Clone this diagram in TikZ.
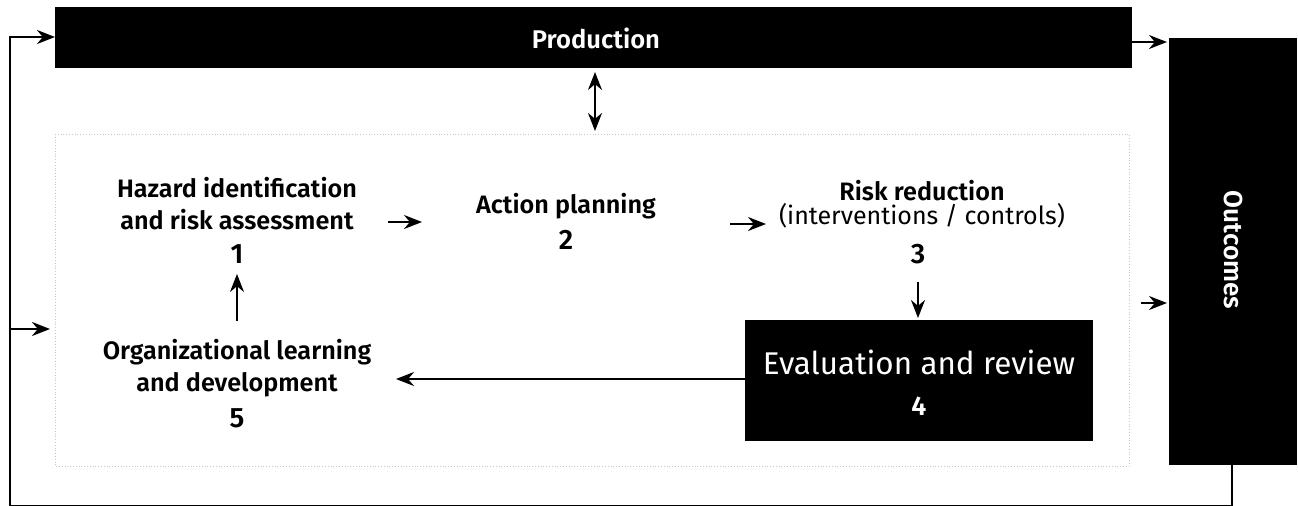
\documentclass[tikz,border=0pt]{standalone}
\usepackage{fontspec}
\setmainfont{Fira Sans}[BoldFont={Fira Sans SemiBold}]
\usetikzlibrary{arrows.meta}
\tikzset{
  lbl/.style={align=center,font=\bfseries\fontsize{12.6}{16}\selectfont,inner sep=0pt},
  num/.style={font=\bfseries\fontsize{14}{16}\selectfont,inner sep=0pt},
  arr/.style={line width=1pt,-{Stealth[length=9pt,width=7pt]}},
  darr/.style={line width=1pt,{Stealth[length=9pt,width=7pt]}-{Stealth[length=9pt,width=7pt]}},
  frame/.style={draw=black!22,densely dotted,line width=0.4pt}
}
\begin{document}
\begin{tikzpicture}[x=0.5pt,y=-0.5pt]
\useasboundingbox (0,0) rectangle (1298,505);
% boxes
\fill[black] (55,7) rectangle (1132,68);
\node[text=white,font=\bfseries\fontsize{12.8}{14}\selectfont] (prod) at (596,38) {Production};
\coordinate (prodL) at (55,37);
\coordinate (prodB) at (595,68);
\fill[black] (1169,38) rectangle (1297,465);
\node[text=white,rotate=-90,font=\bfseries\fontsize{13}{14}\selectfont] (out) at (1233,250) {Outcomes};
\coordinate (outL) at (1167,42);
\coordinate (outL2) at (1167,303);
\coordinate (outB) at (1232,465);
% frame
\draw[frame] (55,134) rectangle (1129,466);
\coordinate (frT) at (595,131);
% text nodes
\node[lbl] (h1) at (237,204) {Hazard identification\\and risk assessment};
\node[num] (n1) at (237,254) {1};
\node[lbl] (h2) at (566,206) {Action planning};
\node[num] (n2) at (566,240) {2};
\node[align=center,inner sep=0pt] (h3) at (922,204) {{\bfseries\fontsize{12.6}{16}\selectfont Risk reduction}\\{\fontsize{12.5}{16}\selectfont (interventions / controls)}};
\node[num] (n3) at (918,254) {3};
\node[lbl] (h5) at (237,368) {Organizational learning\\and development};
\node[num] (n5) at (237,418) {5};
\fill[black] (745,320) rectangle (1093,441);
\node[text=white,font=\fontsize{15.7}{18}\selectfont,inner sep=0pt] (h4) at (919,362) {Evaluation and review};
\node[text=white,font=\bfseries\fontsize{13.5}{16}\selectfont,inner sep=0pt] (n4) at (919,406) {4};
\coordinate (b4L) at (745,379);
\coordinate (b4T) at (918,318);
% arrows
\draw[darr] (prodB) ++(0,4) -- (frT);
\draw[arr] (388,222) -- (422,222);
\draw[arr] (730,224) -- (766,224);
\draw[arr] (918,282) -- (b4T);
\draw[arr] (237,321) -- (237,274);
\draw[arr,line width=1.1pt] (b4L) -- (396,379);
\draw[arr] (1132,42) -- (outL);
\draw[arr] (1141,303) -- (outL2);
\draw[line width=1.3pt] (outB) -- (1232,506) -- (10,506) -- (10,37);
\draw[arr,line width=1.3pt] (9.4,37) -- (prodL);
\draw[arr,line width=1.3pt] (10,329) -- (50,329);
\end{tikzpicture}
\end{document}
